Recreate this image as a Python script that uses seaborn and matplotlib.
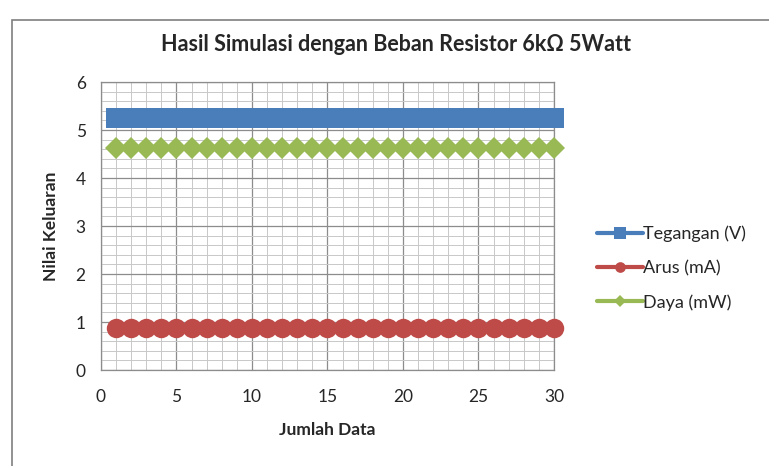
import pandas as pd
import seaborn as sns
import matplotlib.pyplot as plt
import matplotlib.ticker as mticker
from matplotlib.patches import Rectangle

# data (30 samples, constant readings)
jumlah_data = list(range(1, 31))
tegangan = [5.25] * 30   # V
arus = [0.87] * 30       # mA
daya = [4.63] * 30       # mW

series = ['Tegangan (V)', 'Arus (mA)', 'Daya (mW)']
colors = ['#4a7ebb', '#be4b48', '#98b954']
markers = ['s', 'o', 'D']
msizes = [15, 14, 11]

df = pd.DataFrame({'Jumlah Data': jumlah_data * 3,
                   'Nilai': tegangan + arus + daya,
                   'Seri': [series[0]] * 30 + [series[1]] * 30 + [series[2]] * 30})

sns.set_style('white')
plt.rcParams['font.family'] = ['Lato', 'DejaVu Sans']

fig = plt.figure(figsize=(7.69, 4.66), dpi=100)
ax = fig.add_axes([0.1313, 0.206, 0.5891, 0.618])

for s, c, m, ms in zip(series, colors, markers, msizes):
    sub = df[df['Seri'] == s]
    sns.lineplot(data=sub, x='Jumlah Data', y='Nilai', ax=ax, color=c, marker=m,
                 markersize=ms, markeredgewidth=0, linewidth=3, label=s, clip_on=False, zorder=3)

ax.set_xlim(0, 30)
ax.set_ylim(0, 6)
ax.xaxis.set_major_locator(mticker.MultipleLocator(5))
ax.xaxis.set_minor_locator(mticker.MultipleLocator(1))
ax.yaxis.set_major_locator(mticker.MultipleLocator(1))
ax.yaxis.set_minor_locator(mticker.MultipleLocator(0.2))
ax.grid(which='major', color='#8c8c8c', linewidth=0.9)
ax.grid(which='minor', color='#c8c8c8', linewidth=0.7)
ax.set_axisbelow(True)
for sp in ax.spines.values():
    sp.set_color('#8c8c8c')
    sp.set_linewidth(0.9)
ax.tick_params(which='both', length=0, labelsize=12.5)
ax.tick_params(axis='x', pad=14)
ax.tick_params(axis='y', pad=11)

ax.set_xlabel('Jumlah Data', fontsize=12.5, fontweight='bold', labelpad=12)
ax.set_ylabel('Nilai Keluaran', fontsize=12.5, fontweight='bold', labelpad=12)
fig.text(0.515, 0.905, 'Hasil Simulasi dengan Beban Resistor 6k\u03a9 5Watt',
         ha='center', va='center', fontsize=15.5, fontweight='bold')

leg = ax.legend(loc='center left', bbox_to_anchor=(1.06, 0.354), frameon=False,
                fontsize=13, handlelength=2.5, handletextpad=0.05, labelspacing=1.0,
                markerscale=0.55)

fig.patches.append(Rectangle((12 / 769, -0.05), 1.0, (466 - 20) / 466 + 0.05,
                             transform=fig.transFigure, fill=False,
                             edgecolor='#7f7f7f', linewidth=1.2))

fig.savefig('out.png', dpi=100)
